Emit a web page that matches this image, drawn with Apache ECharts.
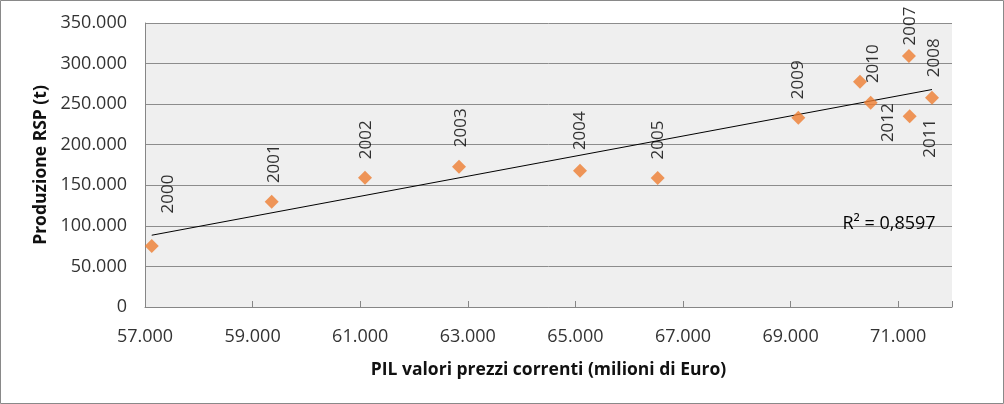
<!DOCTYPE html>
<html>
<head>
<meta charset="utf-8">
<script src="https://cdn.jsdelivr.net/npm/echarts@6/dist/echarts.min.js"></script>
<style>
html,body{margin:0;padding:0;background:#fff;}
#c{width:1004px;height:404px;}
</style>
</head>
<body>
<div id="c"></div>
<script>
// ---- data ----
const years = ['2000','2001','2002','2003','2004','2005','2007','2008','2009','2010','2011','2012'];
const pil = [57125, 59355, 61089, 62836, 65085, 66529, 71200, 71628, 69143, 70290, 71213, 70489];
const rsp = [75200, 129800, 159300, 172900, 168000, 159000, 309300, 257900, 233300, 277700, 235000, 251800];
const r2Text = 'R² = 0,8597';
const xTitle = 'PIL valori prezzi correnti (milioni di Euro)';
const yTitle = 'Produzione RSP (t)';

// ---- label placement (screen px shift from point to label centre) ----
const labelShift = [[16,-52],[2,-38],[1,-38],[2,-39],[0,-40],[0,-38],[1,-30],[2,-40],[0,-38],[13,-18],[20,22],[17,20]];

// linear regression trendline from the data
const n = pil.length;
const mx = pil.reduce((a,b)=>a+b,0)/n, my = rsp.reduce((a,b)=>a+b,0)/n;
let sxy = 0, sxx = 0;
for (let i=0;i<n;i++){ sxy += (pil[i]-mx)*(rsp[i]-my); sxx += (pil[i]-mx)*(pil[i]-mx); }
const slope = sxy/sxx, icpt = my - slope*mx;
const xmin = Math.min(...pil), xmax = Math.max(...pil);
const trend = [[xmin, icpt+slope*xmin],[xmax, icpt+slope*xmax]];

const fmt = v => String(Math.round(v)).replace(/\B(?=(\d{3})+(?!\d))/g, '.');
const FONT = 'Open Sans';

const chart = echarts.init(document.getElementById('c'), null, {renderer:'canvas'});
chart.setOption({
  animation: false,
  backgroundColor: '#ffffff',
  grid: { left: 145, right: 52, top: 23, bottom: 97, show: true, backgroundColor: '#efefef', borderWidth: 0 },
  xAxis: {
    type: 'value', min: 57000, max: 72000, interval: 2000,
    name: xTitle, nameLocation: 'middle', nameGap: 54,
    nameTextStyle: { fontFamily: FONT, fontWeight: 'bold', fontSize: 17.5, color: '#111111' },
    axisLine: { show: true, lineStyle: { color: '#868686', width: 1 } },
    axisTick: { show: true, inside: true, length: 6, lineStyle: { color: '#868686' } },
    splitLine: { show: false },
    axisLabel: { fontFamily: FONT, fontSize: 18, color: '#333333', margin: 21,
      formatter: v => (v === 72000 ? '' : fmt(v)) }
  },
  yAxis: {
    type: 'value', min: 0, max: 350000, interval: 50000,
    name: yTitle, nameLocation: 'middle', nameGap: 93, nameRotate: 90,
    nameTextStyle: { fontFamily: FONT, fontWeight: 'bold', fontSize: 17.5, color: '#111111' },
    axisLine: { show: true, lineStyle: { color: '#868686', width: 1 } },
    axisTick: { show: false },
    splitLine: { show: true, lineStyle: { color: '#8c8c8c', width: 1 } },
    axisLabel: { fontFamily: FONT, fontSize: 18, color: '#333333', margin: 18, formatter: v => fmt(v) }
  },
  series: [
    {
      type: 'line', data: trend, symbol: 'none', silent: true, z: 2,
      lineStyle: { color: '#000000', width: 1 }
    },
    {
      type: 'scatter', z: 3,
      data: pil.map((x,i)=>[x, rsp[i], years[i]]),
      symbol: 'diamond', symbolSize: 14,
      itemStyle: { color: '#ED7D31' },
      label: {
        show: true, formatter: p => p.data[2], rotate: 90,
        fontFamily: FONT, fontSize: 17, color: '#000000'
      },
      labelLayout: function (params) {
        const s = labelShift[params.dataIndex];
        const cx = params.rect.x + params.rect.width/2;
        const cy = params.rect.y + params.rect.height/2;
        return { x: cx + s[0], y: cy + s[1], rotate: 90, align: 'center', verticalAlign: 'middle' };
      }
    }
  ],
  graphic: [
    { type: 'rect', shape: { x: 0.5, y: 0.5, width: 1003, height: 403 }, style: { fill: 'none', stroke: '#898989', lineWidth: 1 }, z: 100 },
    { type: 'text', x: 889, y: 224, style: { text: r2Text, font: '18px "Open Sans"', fill: '#000000', align: 'center', verticalAlign: 'middle' }, z: 50 }
  ]
});
</script>
</body>
</html>
